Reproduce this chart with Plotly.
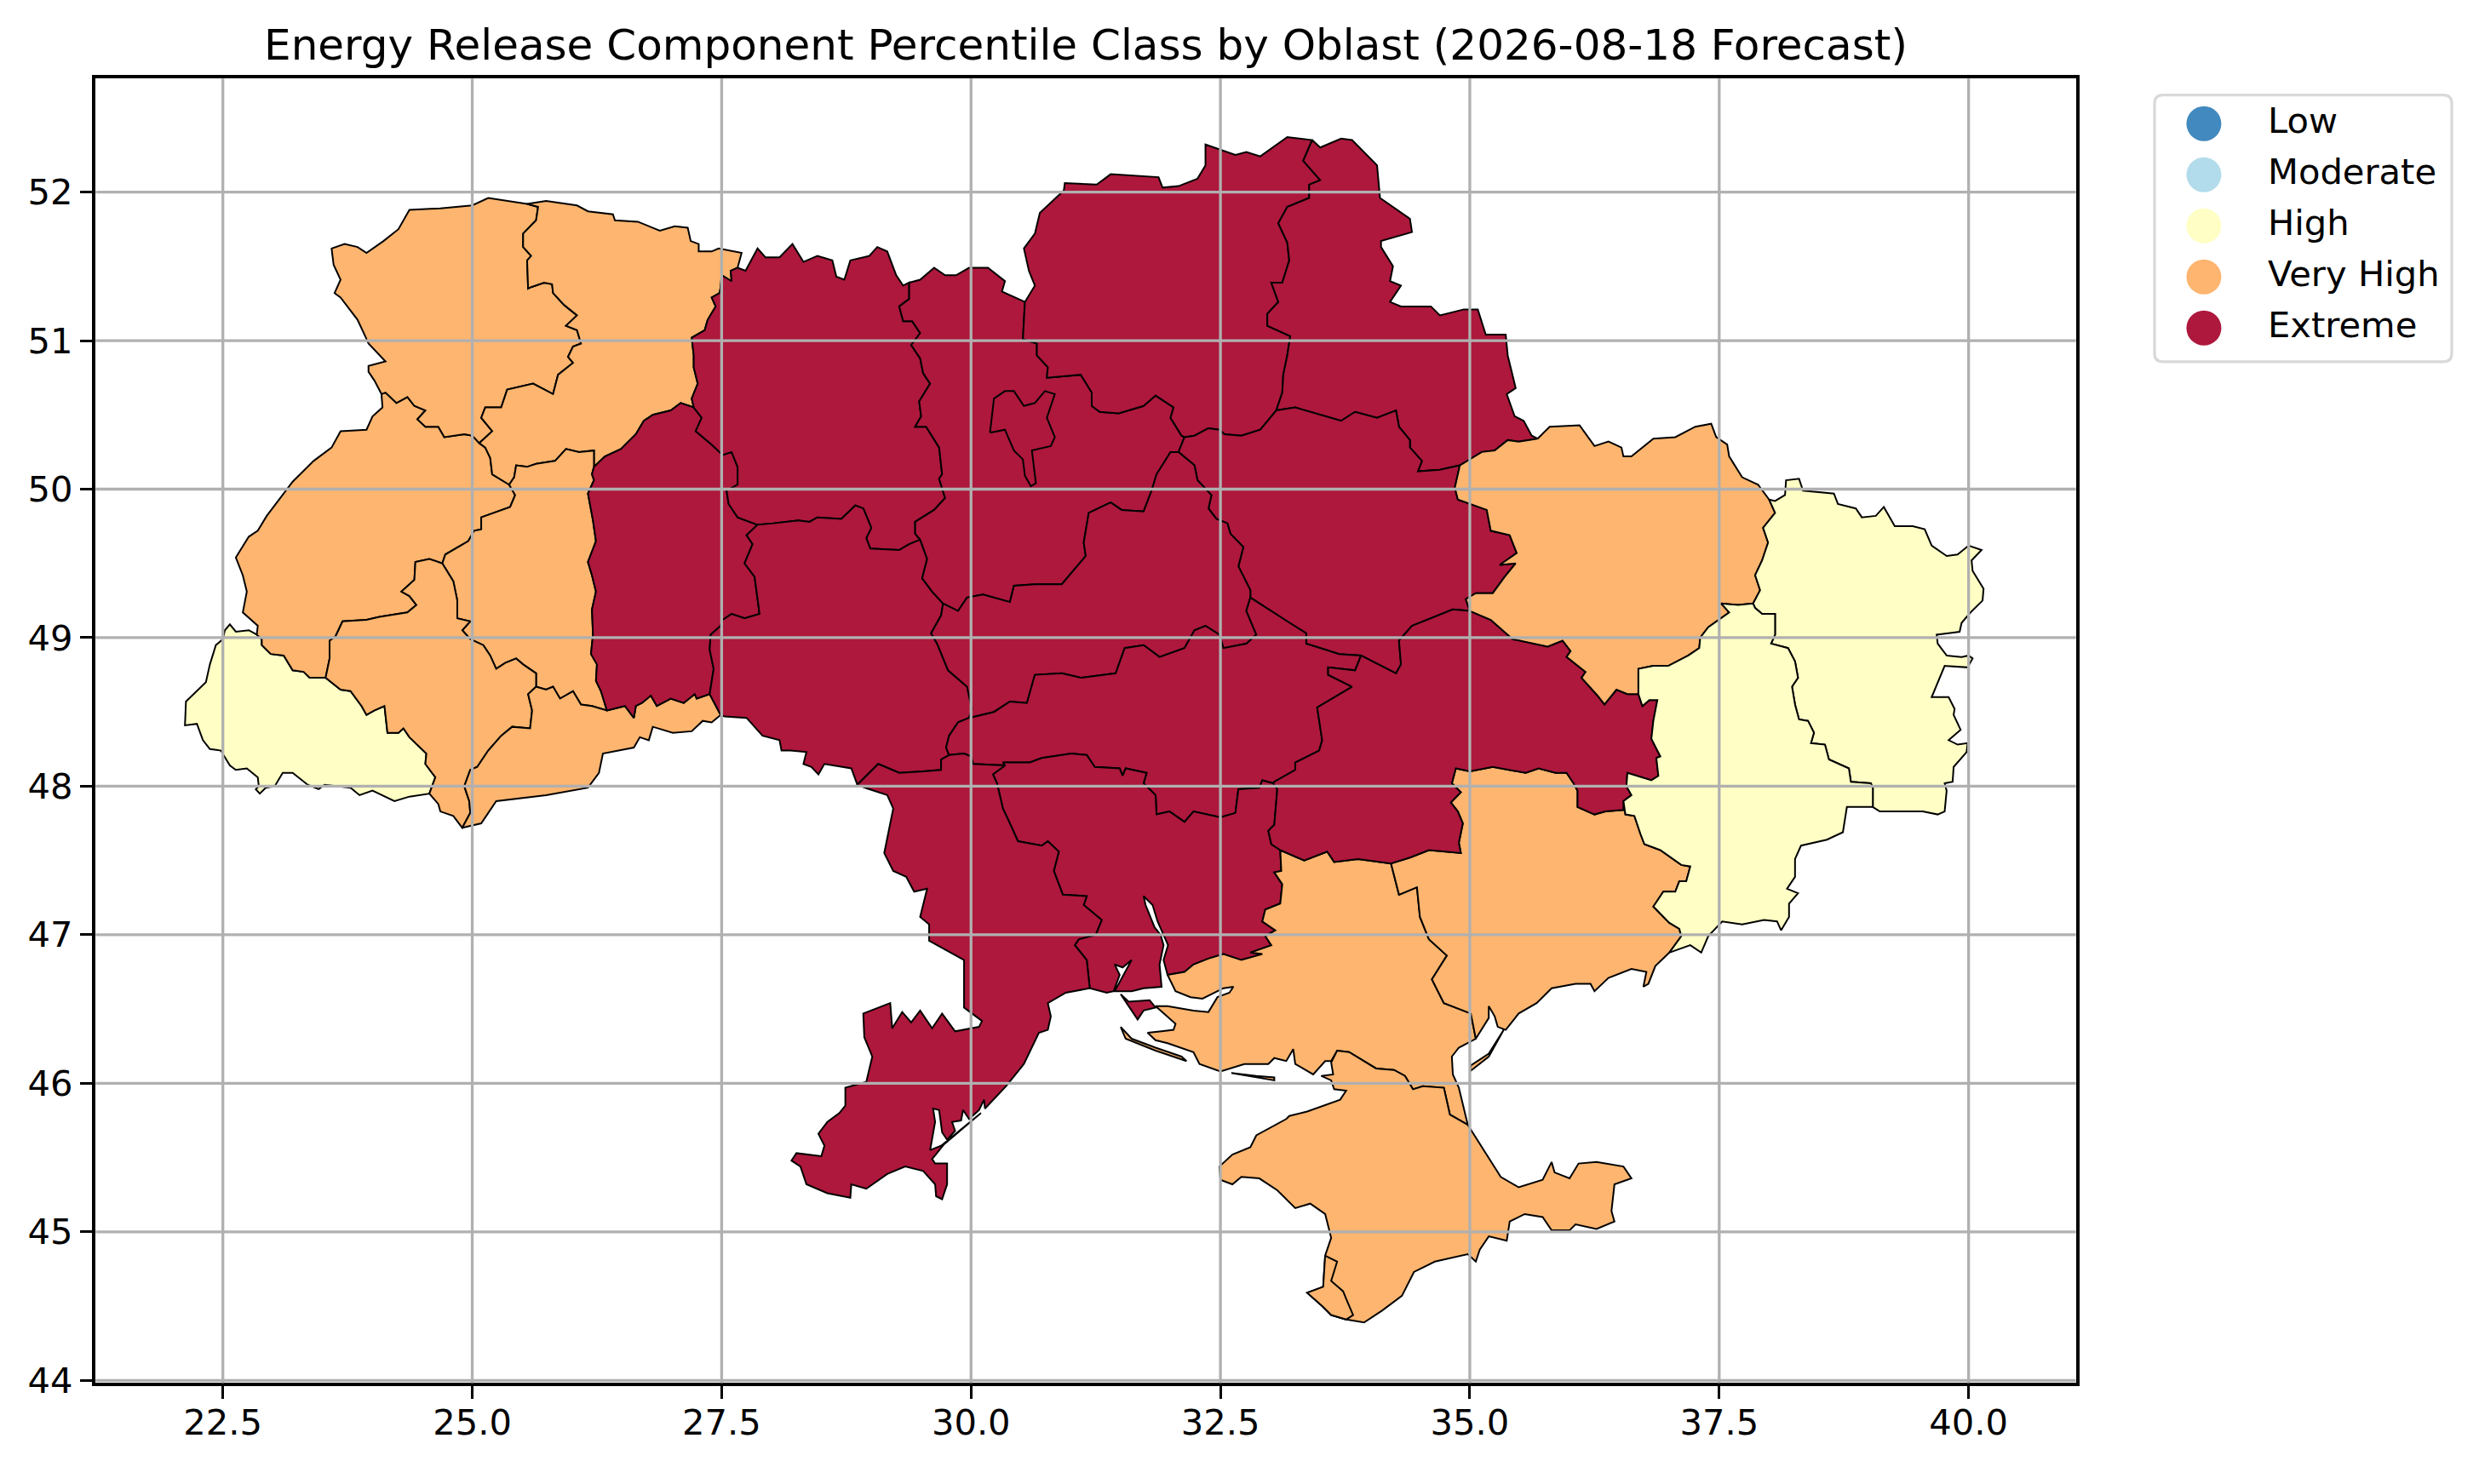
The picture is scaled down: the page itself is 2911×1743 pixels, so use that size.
import plotly.graph_objects as go

# ---- chart text and classes ----
TITLE = "Energy Release Component Percentile Class by Oblast (2026-08-18 Forecast)"
CLASSES = ["Low", "Moderate", "High", "Very High", "Extreme"]
CLASS_COLORS = ["#4189BE", "#B2DCEB", "#FFFFC5", "#FDB56F", "#AD183C"]
X_TICKS = [22.5, 25.0, 27.5, 30.0, 32.5, 35.0, 37.5, 40.0]
Y_TICKS = [44, 45, 46, 47, 48, 49, 50, 51, 52]

# ---- boundary arcs, (lon, lat) ----
zak_outer = [(22.84,49.02),(22.76,49.05),(22.63,49.04),(22.57,49.09),(22.52,49.05),(22.50,48.99),(22.43,48.95),(22.37,48.82),(22.33,48.70),(22.24,48.64),(22.13,48.57),(22.12,48.41),(22.24,48.42),(22.30,48.31),(22.37,48.25),(22.48,48.24),(22.57,48.14),(22.63,48.11),(22.74,48.12),(22.85,48.06),(22.86,48.00),(22.83,47.98),(22.87,47.95),(22.93,47.99),(23.02,48.00),(23.10,48.09),(23.20,48.09),(23.35,48.01),(23.46,47.98),(23.52,48.01),(23.78,47.99),(23.87,47.94),(24.00,47.97),(24.22,47.90),(24.37,47.93),(24.57,47.95)]
zak_if = [(24.57,47.95),(24.63,48.06),(24.53,48.15),(24.54,48.22),(24.37,48.33),(24.31,48.39),(24.26,48.36),(24.15,48.36),(24.12,48.54),(24.02,48.51),(23.94,48.48),(23.89,48.54),(23.78,48.64),(23.68,48.65),(23.53,48.73)]
zak_lviv = [(23.53,48.73),(23.37,48.73),(23.31,48.77),(23.20,48.78),(23.11,48.88),(22.98,48.89),(22.89,48.95),(22.89,48.99),(22.84,49.02)]
lviv_west = [(22.84,49.02),(22.85,49.08),(22.70,49.17),(22.74,49.31),(22.70,49.42),(22.63,49.54),(22.76,49.68),(22.85,49.72),(22.94,49.82),(23.13,49.99),(23.20,50.05),(23.41,50.19),(23.59,50.28),(23.68,50.39),(23.94,50.40),(24.00,50.49),(24.10,50.55),(24.09,50.64)]
volyn_lviv = [(25.07,50.31),(25.00,50.36),(24.92,50.37),(24.72,50.35),(24.66,50.42),(24.53,50.42),(24.45,50.47),(24.53,50.53),(24.42,50.56),(24.35,50.62),(24.24,50.58),(24.13,50.65),(24.09,50.64)]
rivne_lviv = [(25.37,50.03),(25.20,50.10),(25.18,50.21),(25.13,50.28),(25.07,50.31)]
lviv_tern = [(25.37,50.03),(25.43,49.96),(25.38,49.88),(25.09,49.81),(25.09,49.73),(25.02,49.72),(24.96,49.65),(24.73,49.56),(24.70,49.50)]
lviv_if = [(24.70,49.50),(24.57,49.53),(24.43,49.51),(24.42,49.39),(24.29,49.31),(24.37,49.28),(24.44,49.22),(24.35,49.17),(24.07,49.14),(23.94,49.12),(23.70,49.11),(23.63,49.01),(23.57,48.98),(23.57,48.86),(23.53,48.73)]
volyn_outer = [(24.09,50.64),(24.02,50.73),(23.96,50.79),(23.96,50.83),(24.13,50.86),(23.96,50.98),(23.92,51.04),(23.85,51.14),(23.68,51.29),(23.62,51.32),(23.68,51.41),(23.61,51.51),(23.59,51.62),(23.72,51.65),(23.85,51.63),(23.94,51.59),(24.11,51.67),(24.26,51.75),(24.37,51.88),(24.68,51.89),(25.00,51.91),(25.16,51.96),(25.55,51.92)]
rivne_volyn = [(25.07,50.31),(25.20,50.39),(25.09,50.48),(25.13,50.55),(25.29,50.55),(25.35,50.67),(25.61,50.71),(25.81,50.64),(25.86,50.77),(26.01,50.85),(25.96,50.89),(26.01,50.96),(26.09,50.98),(26.05,51.07),(25.94,51.10),(26.05,51.17),(25.92,51.24),(25.81,51.32),(25.80,51.38),(25.72,51.39),(25.59,51.36),(25.56,51.35),(25.55,51.54),(25.59,51.57),(25.51,51.63),(25.51,51.72),(25.64,51.81),(25.66,51.90),(25.55,51.92)]
rivne_north = [(25.55,51.92),(25.74,51.94),(26.05,51.91),(26.16,51.87),(26.41,51.85),(26.43,51.81),(26.66,51.80),(26.88,51.74),(27.03,51.77),(27.16,51.76),(27.19,51.67),(27.27,51.65),(27.27,51.60),(27.40,51.60),(27.47,51.62),(27.70,51.59),(27.66,51.49)]
rivne_zhy = [(27.66,51.49),(27.59,51.47),(27.60,51.40),(27.50,51.44),(27.49,51.36),(27.48,51.32),(27.40,51.29),(27.44,51.23),(27.36,51.14),(27.33,51.07),(27.20,51.02),(27.22,50.90),(27.22,50.82),(27.26,50.71),(27.20,50.61),(27.22,50.55)]
rivne_khm = [(27.22,50.55),(27.09,50.58),(26.99,50.53),(26.81,50.50),(26.72,50.46),(26.64,50.37),(26.49,50.27),(26.33,50.22),(26.22,50.15)]
rivne_tern = [(26.22,50.15),(26.22,50.26),(26.07,50.25),(25.94,50.27),(25.83,50.19),(25.64,50.17),(25.55,50.15),(25.44,50.16),(25.42,50.08),(25.37,50.03)]
tern_if = [(24.70,49.50),(24.81,49.38),(24.85,49.25),(24.85,49.13),(24.98,49.11),(24.90,49.05),(24.98,48.99),(25.11,48.95),(25.18,48.88),(25.24,48.79),(25.33,48.83),(25.44,48.86),(25.51,48.82),(25.64,48.76),(25.64,48.67)]
tern_chv = [(25.64,48.67),(25.74,48.65),(25.81,48.67),(25.88,48.59),(26.01,48.64),(26.09,48.55),(26.20,48.54),(26.35,48.51)]
tern_khm = [(26.35,48.51),(26.29,48.64),(26.24,48.71),(26.25,48.82),(26.19,48.89),(26.21,49.02),(26.20,49.19),(26.24,49.31),(26.20,49.42),(26.16,49.51),(26.24,49.65),(26.21,49.79),(26.16,49.97),(26.22,50.06),(26.20,50.10),(26.22,50.15)]
if_chv = [(25.64,48.67),(25.56,48.62),(25.60,48.51),(25.58,48.39),(25.40,48.40),(25.29,48.34),(25.16,48.24),(25.05,48.13),(24.98,48.11),(24.92,48.00),(24.97,47.90),(24.98,47.82),(24.90,47.72)]
if_south = [(24.57,47.95),(24.66,47.88),(24.68,47.83),(24.81,47.80),(24.90,47.72)]
chv_outer = [(24.90,47.72),(25.09,47.75),(25.24,47.90),(25.74,47.94),(26.16,47.99),(26.27,48.09),(26.31,48.22),(26.62,48.26),(26.68,48.33),(26.77,48.31),(26.81,48.40),(27.01,48.36),(27.20,48.37),(27.31,48.44),(27.40,48.43),(27.49,48.48)]
chv_vin = [(27.49,48.48),(27.38,48.62)]
chv_khm = [(27.38,48.62),(27.25,48.59),(27.23,48.62),(27.12,48.56),(26.99,48.59),(26.85,48.54),(26.79,48.61),(26.70,48.56),(26.64,48.54),(26.62,48.46),(26.53,48.54),(26.35,48.51)]
khm_zhy = [(27.22,50.55),(27.30,50.48),(27.24,50.39),(27.40,50.30),(27.51,50.23),(27.60,50.25),(27.66,50.15),(27.66,50.03),(27.55,49.99),(27.57,49.90),(27.66,49.81),(27.86,49.76)]
khm_vin = [(27.86,49.76),(27.75,49.69),(27.81,49.63),(27.73,49.50),(27.83,49.41),(27.88,49.16),(27.73,49.13),(27.60,49.16),(27.51,49.12),(27.49,49.08),(27.39,49.02),(27.38,48.92),(27.42,48.79),(27.38,48.62)]
zhy_north = [(27.66,51.49),(27.74,51.47),(27.86,51.62),(27.94,51.56),(28.08,51.56),(28.21,51.65),(28.32,51.53),(28.46,51.57),(28.61,51.54),(28.65,51.43),(28.73,51.41),(28.79,51.54),(28.98,51.57),(29.06,51.63),(29.16,51.60),(29.25,51.44),(29.32,51.37),(29.38,51.39)]
zhy_kyiv = [(29.38,51.39),(29.38,51.28),(29.28,51.23),(29.32,51.13),(29.41,51.13),(29.49,51.05),(29.40,50.97),(29.49,50.88),(29.52,50.78),(29.59,50.71),(29.48,50.59),(29.50,50.49),(29.44,50.42),(29.55,50.42),(29.68,50.28),(29.71,50.10),(29.68,50.07),(29.74,49.94),(29.63,49.86),(29.44,49.78),(29.44,49.70),(29.49,49.66)]
zhy_vin = [(27.86,49.76),(28.02,49.77),(28.27,49.79),(28.38,49.78),(28.46,49.81),(28.70,49.80),(28.84,49.89),(28.92,49.87),(29.00,49.74),(28.95,49.67),(28.99,49.60),(29.28,49.59),(29.38,49.63),(29.49,49.66)]
vin_outer = [(27.49,48.48),(27.53,48.47),(27.75,48.46),(27.91,48.34),(28.08,48.31),(28.10,48.24),(28.19,48.24),(28.35,48.23),(28.32,48.15),(28.40,48.13),(28.47,48.08),(28.53,48.15),(28.80,48.12),(28.86,48.01)]
vin_ode = [(28.86,48.01),(29.07,48.15),(29.28,48.09),(29.52,48.10),(29.70,48.11),(29.70,48.18),(29.78,48.21)]
vin_kir = [(29.98,48.46),(29.87,48.43),(29.78,48.34),(29.75,48.26),(29.78,48.21)]
vin_cherk = [(29.72,49.23),(29.70,49.15),(29.60,49.03),(29.66,48.96),(29.77,48.78),(29.96,48.67),(30.01,48.52),(29.98,48.46)]
vin_kyiv = [(29.49,49.66),(29.56,49.53),(29.51,49.40),(29.61,49.31),(29.72,49.23)]
kyiv_north = [(29.38,51.39),(29.49,51.41),(29.63,51.49),(29.74,51.44),(29.85,51.44),(29.98,51.49),(30.17,51.49),(30.34,51.40),(30.31,51.33),(30.54,51.26)]
kyiv_cher = [(30.54,51.26),(30.52,51.01),(30.66,50.98),(30.66,50.90),(30.77,50.82),(30.76,50.75),(31.10,50.77),(31.21,50.65),(31.21,50.56),(31.29,50.52),(31.48,50.51),(31.73,50.56),(31.85,50.63),(32.03,50.55),(32.00,50.48),(32.11,50.36),(32.14,50.35)]
kyiv_pol = [(32.14,50.35),(32.08,50.25)]
kyiv_cherk = [(29.72,49.23),(29.87,49.18),(29.96,49.27),(30.12,49.29),(30.39,49.24),(30.43,49.35),(30.64,49.36),(30.91,49.36),(31.15,49.55),(31.13,49.64),(31.18,49.84),(31.40,49.91),(31.51,49.86),(31.73,49.85),(31.81,49.99),(31.86,50.10),(32.00,50.25),(32.08,50.25)]
cher_outer = [(30.54,51.26),(30.64,51.37),(30.58,51.47),(30.53,51.62),(30.64,51.72),(30.69,51.86),(30.93,52.01),(30.94,52.06),(31.26,52.05),(31.40,52.12),(31.88,52.10),(31.92,52.03),(32.08,52.04),(32.27,52.09),(32.35,52.18),(32.35,52.32),(32.65,52.25),(32.76,52.27),(32.90,52.24),(33.17,52.37),(33.42,52.35)]
sumy_cher = [(33.42,52.35),(33.33,52.21),(33.50,52.08),(33.39,52.05),(33.39,51.96),(33.17,51.90),(33.08,51.79),(33.17,51.66),(33.19,51.54),(33.12,51.39),(33.01,51.39),(33.08,51.26),(32.97,51.18),(32.97,51.10),(33.20,51.03),(33.17,50.90),(33.13,50.77),(33.12,50.65),(33.06,50.53)]
cher_pol = [(32.14,50.35),(32.24,50.36),(32.38,50.41),(32.49,50.40),(32.54,50.37),(32.71,50.36),(32.90,50.40),(33.06,50.53)]
sumy_outer = [(33.42,52.35),(33.50,52.30),(33.71,52.36),(33.82,52.35),(34.07,52.18),(34.10,51.96),(34.40,51.82),(34.42,51.73),(34.11,51.67),(34.11,51.63),(34.23,51.50),(34.20,51.40),(34.31,51.37),(34.20,51.26),(34.31,51.23),(34.61,51.23),(34.70,51.17),(34.94,51.21),(35.08,51.21),(35.16,51.04),(35.36,51.04),(35.38,50.90),(35.46,50.68),(35.37,50.64),(35.45,50.49),(35.54,50.46),(35.62,50.36),(35.68,50.34)]
sumy_khar = [(34.90,50.16),(35.12,50.25),(35.25,50.26),(35.38,50.33),(35.49,50.32),(35.68,50.34)]
sumy_pol = [(33.06,50.53),(33.25,50.55),(33.71,50.46),(33.85,50.52),(34.07,50.48),(34.26,50.53),(34.29,50.42),(34.40,50.33),(34.40,50.28),(34.52,50.19),(34.48,50.12),(34.70,50.13),(34.83,50.15),(34.90,50.16)]
pol_cherk = [(32.08,50.25),(32.24,50.16),(32.27,50.06),(32.41,49.96),(32.38,49.87),(32.46,49.80),(32.57,49.77),(32.60,49.70),(32.73,49.61),(32.68,49.48),(32.80,49.32),(32.80,49.27)]
pol_kir = [(32.80,49.27),(33.17,49.11),(33.36,49.03),(33.36,48.96),(33.69,48.89),(33.91,48.88)]
pol_dni = [(33.91,48.88),(34.26,48.76),(34.31,48.82),(34.29,48.98),(34.42,49.08),(34.83,49.19),(35.00,49.18)]
pol_khar = [(35.00,49.18),(34.96,49.26),(35.06,49.30),(35.23,49.30),(35.35,49.41),(35.46,49.50),(35.30,49.49),(35.47,49.57),(35.40,49.69),(35.21,49.72),(35.17,49.86),(34.88,49.93),(34.85,50.01),(34.90,50.16)]
cherk_kir = [(29.98,48.46),(30.23,48.50),(30.39,48.57),(30.56,48.56),(30.64,48.75),(30.91,48.76),(31.10,48.73),(31.32,48.75),(31.45,48.76),(31.54,48.93),(31.73,48.95),(31.89,48.87),(32.14,48.93),(32.24,49.05),(32.35,49.08),(32.49,49.02),(32.53,48.93),(32.76,48.96),(32.86,49.02),(32.76,49.18),(32.80,49.27)]
kir_dni = [(33.91,48.88),(33.85,48.78),(33.58,48.80),(33.58,48.75),(33.82,48.67),(33.47,48.53),(33.52,48.31),(33.49,48.24),(33.25,48.16),(33.25,48.11),(33.04,48.03),(33.03,48.02)]
kir_myk = [(33.03,48.02),(32.92,48.04),(32.89,47.99),(32.68,47.98),(32.65,47.82),(32.50,47.79),(32.23,47.83),(32.14,47.76),(31.99,47.83),(31.86,47.81),(31.85,47.94),(31.73,48.02),(31.76,48.09),(31.55,48.12),(31.52,48.07),(31.49,48.12),(31.24,48.13),(31.16,48.21),(31.01,48.22),(30.71,48.19),(30.59,48.16),(30.32,48.16),(30.34,48.14)]
kir_ode = [(29.78,48.21),(29.93,48.22),(30.00,48.20),(30.02,48.15),(30.34,48.14)]
myk_dni = [(33.03,48.02),(33.07,47.98),(33.04,47.74),(32.98,47.70),(33.01,47.61),(33.10,47.57)]
myk_khe = [(33.10,47.57),(33.11,47.43),(33.04,47.42),(33.12,47.34),(33.10,47.21),(32.95,47.17),(32.92,47.09),(33.05,47.03),(32.95,46.99),(33.01,46.93),(32.80,46.88),(32.92,46.87),(32.71,46.83),(32.53,46.87),(32.38,46.84),(32.23,46.80),(32.14,46.75),(31.97,46.73)]
myk_coast = [(31.97,46.73),(31.93,46.83),(31.975,46.93),(31.93,47.00),(31.87,47.09),(31.82,47.20),(31.73,47.26),(31.75,47.20),(31.84,47.05),(31.90,47.00),(31.93,46.93),(31.89,46.80),(31.91,46.65),(31.73,46.64),(31.61,46.62),(31.44,46.62),(31.52,46.72),(31.61,46.83),(31.52,46.78),(31.44,46.80),(31.49,46.73),(31.43,46.62),(31.36,46.61),(31.19,46.64)]
ode_myk = [(30.34,48.14),(30.22,48.08),(30.26,48.02),(30.32,47.85),(30.41,47.72),(30.47,47.63),(30.71,47.60),(30.77,47.63),(30.88,47.56),(30.83,47.43),(30.92,47.27),(31.16,47.26),(31.13,47.20),(31.31,47.10),(31.25,47.00),(31.08,46.97),(31.04,46.93),(31.16,46.83),(31.19,46.64)]
ode_coast = [(31.19,46.64),(30.95,46.61),(30.77,46.54),(30.80,46.45),(30.77,46.36),(30.68,46.34),(30.53,46.13),(30.35,45.98),(30.14,45.83),(30.13,45.89),(30.08,45.82),(29.98,45.76),(29.92,45.82),(29.90,45.75),(29.81,45.74),(29.84,45.68),(29.76,45.62),(29.71,45.67),(29.68,45.82),(29.62,45.83),(29.64,45.74),(29.59,45.55),(29.70,45.58),(30.10,45.80),(29.73,45.59),(29.61,45.49),(29.64,45.46),(29.76,45.46),(29.76,45.32),(29.71,45.22),(29.65,45.24),(29.64,45.32),(29.52,45.41),(29.34,45.44),(29.16,45.39),(28.95,45.29),(28.80,45.32),(28.79,45.23),(28.56,45.26),(28.35,45.32),(28.29,45.44),(28.20,45.48),(28.25,45.53),(28.50,45.51),(28.53,45.58),(28.47,45.66),(28.56,45.74),(28.68,45.80),(28.74,45.85),(28.74,45.97),(28.95,46.01),(29.01,46.18),(28.93,46.31),(28.92,46.47),(29.19,46.54),(29.21,46.37),(29.31,46.48),(29.40,46.41),(29.49,46.49),(29.61,46.37),(29.71,46.47),(29.84,46.35),(30.08,46.38),(30.11,46.42),(29.93,46.51),(29.93,46.83),(29.58,46.96),(29.58,47.07),(29.49,47.12),(29.56,47.31),(29.43,47.29),(29.35,47.39),(29.22,47.43),(29.13,47.55),(29.22,47.85),(29.16,47.94),(28.89,48.00),(28.86,48.01)]
khe_coast = [(31.97,46.73),(32.05,46.62),(32.20,46.58),(32.32,46.57),(32.53,46.64),(32.63,46.65),(32.59,46.61),(32.47,46.58),(32.38,46.48),(32.23,46.49),(31.97,46.52),(31.85,46.52),(32.05,46.40),(32.03,46.36),(31.91,46.35),(31.77,46.34),(31.85,46.29),(31.97,46.27),(32.23,46.21),(32.29,46.13),(32.50,46.08),(32.74,46.13),(32.98,46.13),(33.04,46.17),(33.16,46.15),(33.23,46.23),(33.25,46.13),(33.43,46.06),(33.55,46.15),(33.61,46.15),(33.67,46.22)]
khe_crimea = [(33.67,46.22),(33.79,46.21),(34.06,46.10),(34.24,46.09),(34.35,46.05),(34.43,45.96),(34.53,45.98),(34.74,45.97),(34.80,45.79),(34.98,45.72)]
khe_east = [(34.98,45.72),(34.89,45.97),(34.83,46.06),(34.82,46.18),(34.89,46.24),(35.06,46.30)]
khe_zap = [(35.06,46.30),(35.01,46.47),(34.74,46.54),(34.62,46.70),(34.77,46.86),(34.59,46.97),(34.50,47.12),(34.47,47.32),(34.29,47.27),(34.21,47.48)]
khe_dni = [(33.10,47.57),(33.34,47.50),(33.57,47.56),(33.64,47.49),(33.88,47.51),(34.21,47.48)]
crimea_coast = [(34.98,45.72),(35.31,45.37),(35.49,45.30),(35.73,45.35),(35.82,45.47),(35.85,45.40),(36.00,45.36),(36.09,45.46),(36.27,45.47),(36.54,45.44),(36.62,45.36),(36.45,45.32),(36.42,45.14),(36.45,45.07),(36.27,45.02),(36.06,45.05),(36.00,45.01),(35.82,45.01),(35.73,45.10),(35.55,45.12),(35.40,45.07),(35.37,44.94),(35.19,44.97),(35.10,44.88),(35.06,44.80),(34.98,44.85),(34.65,44.80),(34.44,44.73),(34.32,44.57),(34.12,44.47),(33.94,44.39),(33.76,44.41),(33.61,44.44),(33.52,44.50),(33.37,44.59),(33.53,44.63),(33.55,44.84),(33.61,44.96),(33.55,45.12),(33.40,45.19),(33.25,45.16),(33.07,45.28),(32.89,45.36),(32.71,45.37),(32.62,45.32),(32.50,45.35),(32.49,45.44),(32.62,45.52),(32.80,45.57),(32.86,45.65),(33.16,45.76),(33.19,45.78),(33.37,45.81),(33.70,45.89),(33.76,45.95),(33.64,45.96),(33.61,46.02),(33.51,46.05),(33.63,46.06),(33.61,46.14),(33.67,46.22)]
sevastopol = [(33.55,44.84),(33.67,44.80),(33.61,44.67),(33.73,44.60),(33.76,44.55),(33.83,44.44),(33.76,44.41),(33.61,44.44),(33.52,44.50),(33.37,44.59),(33.53,44.63),(33.55,44.84)]
zap_dni = [(34.21,47.48),(34.40,47.52),(34.59,47.57),(34.91,47.55),(34.89,47.62),(34.93,47.75),(34.88,47.83),(34.81,47.89),(34.91,47.96),(34.82,48.02),(34.86,48.12),(35.00,48.10),(35.23,48.13),(35.56,48.09),(35.69,48.12),(35.86,48.09),(35.97,48.09),(36.04,48.02),(36.08,47.97),(36.08,47.86),(36.25,47.81),(36.36,47.83),(36.54,47.84),(36.54,47.90)]
don_zap = [(37.00,46.88),(37.12,46.99),(37.10,47.04),(37.00,47.08),(36.84,47.19),(36.94,47.29),(37.06,47.29),(37.10,47.36),(37.17,47.36),(37.21,47.46),(37.12,47.47),(36.91,47.57),(36.75,47.61),(36.71,47.68),(36.65,47.80),(36.56,47.81),(36.54,47.90)]
zap_coast = [(35.06,46.30),(35.19,46.44),(35.19,46.52),(35.25,46.45),(35.28,46.38),(35.36,46.36),(35.49,46.47),(35.67,46.54),(35.82,46.64),(36.06,46.67),(36.21,46.67),(36.25,46.62),(36.39,46.71),(36.62,46.77),(36.77,46.75),(36.74,46.65),(36.79,46.67),(36.86,46.79),(37.00,46.88)]
don_dni = [(36.54,47.90),(36.62,47.94),(36.57,48.00),(36.58,48.09),(36.82,48.04),(36.89,48.07),(36.87,48.19),(36.91,48.20),(36.82,48.32),(36.84,48.44),(36.88,48.58),(36.80,48.58),(36.73,48.54),(36.69,48.62)]
khar_dni = [(36.69,48.62),(36.58,48.62),(36.47,48.65),(36.35,48.55),(36.28,48.61),(36.12,48.73),(36.16,48.77),(35.97,48.87),(36.01,48.91),(35.93,48.98),(35.78,48.94),(35.43,48.99),(35.21,49.12),(35.00,49.18)]
khar_outer = [(35.68,50.34),(35.80,50.42),(36.10,50.43),(36.25,50.29),(36.39,50.32),(36.52,50.28),(36.54,50.22),(36.62,50.22),(36.84,50.34),(37.06,50.35),(37.26,50.42),(37.42,50.44),(37.47,50.35),(37.58,50.30),(37.60,50.22),(37.73,50.08),(37.89,50.03),(38.00,49.93)]
khar_lug = [(38.00,49.93),(38.06,49.84),(37.94,49.74),(37.99,49.64),(37.93,49.52),(37.86,49.42),(37.91,49.32),(37.84,49.23)]
khar_don = [(37.84,49.23),(37.69,49.22),(37.52,49.23),(37.60,49.17),(37.39,49.07),(37.31,49.00),(37.30,48.93),(37.19,48.88),(36.99,48.81),(36.84,48.81),(36.69,48.79),(36.69,48.62)]
lug_outer = [(38.00,49.93),(38.06,49.92),(38.16,49.96),(38.17,50.06),(38.30,50.07),(38.34,49.99),(38.65,49.97),(38.69,49.90),(38.87,49.87),(38.93,49.81),(39.07,49.82),(39.15,49.88),(39.26,49.75),(39.44,49.75),(39.56,49.73),(39.63,49.62),(39.78,49.55),(39.89,49.56),(40.00,49.62),(40.13,49.59),(40.03,49.52),(40.04,49.45),(40.15,49.33),(40.14,49.25),(40.02,49.17),(39.93,49.10),(39.91,49.04),(39.68,49.02),(39.69,48.96),(39.78,48.88),(39.93,48.87),(40.00,48.88),(40.04,48.86),(39.99,48.80),(39.76,48.81),(39.63,48.60),(39.80,48.60),(39.86,48.52),(39.85,48.48),(39.92,48.38),(39.80,48.31),(39.89,48.28),(39.99,48.29),(39.98,48.23),(39.85,48.13),(39.84,48.03),(39.76,48.02),(39.78,47.97),(39.76,47.83),(39.69,47.81),(39.54,47.83),(39.39,47.83),(39.11,47.83),(39.04,47.86)]
lug_don = [(39.04,47.86),(39.04,47.99),(39.02,48.02),(38.82,48.03),(38.80,48.12),(38.60,48.18),(38.56,48.28),(38.42,48.29),(38.45,48.36),(38.39,48.44),(38.30,48.45),(38.26,48.55),(38.23,48.67),(38.29,48.73),(38.26,48.84),(38.19,48.93),(38.02,48.96),(38.06,49.02),(38.06,49.16),(37.93,49.16),(37.86,49.20),(37.84,49.23)]
don_outer = [(39.04,47.86),(38.78,47.86),(38.74,47.69),(38.58,47.64),(38.32,47.60),(38.26,47.51),(38.26,47.39),(38.18,47.31),(38.29,47.28),(38.20,47.21),(38.20,47.12),(38.12,47.03),(38.08,47.09),(37.95,47.10),(37.73,47.07),(37.53,47.09),(37.39,46.99),(37.32,46.88),(37.21,46.93),(37.00,46.88)]
kyiv_city = [(30.19,50.38),(30.23,50.61),(30.34,50.66),(30.43,50.66),(30.53,50.56),(30.64,50.58),(30.74,50.66),(30.84,50.64),(30.76,50.48),(30.84,50.35),(30.80,50.29),(30.61,50.26),(30.65,50.04),(30.60,50.02),(30.54,50.09),(30.52,50.20),(30.43,50.26),(30.34,50.40),(30.19,50.38)]
kinburn = [(31.50,46.60),(31.67,46.43),(31.73,46.49),(31.85,46.51),(31.79,46.56),(31.58,46.55),(31.50,46.60)]
fedotov = [(35.34,46.36),(35.19,46.18),(35.00,46.08),(35.01,46.12),(35.19,46.20),(35.34,46.36)]
dzharylhach = [(31.50,46.38),(31.55,46.30),(31.85,46.22),(32.16,46.15),(32.11,46.18),(31.85,46.24),(31.61,46.30),(31.50,46.38)]
tendra = [(32.61,46.07),(33.04,46.02),(33.04,46.04),(32.86,46.05),(32.61,46.07)]


def rev(arc):
    return arc[::-1]


# ---- oblasts assembled from the arcs, with their class ----
OBLASTS = [
    ("Zakarpattia", "High", [zak_outer, zak_if, zak_lviv]),
    ("Lviv", "Very High", [lviv_west, rev(volyn_lviv), rev(rivne_lviv), lviv_tern, lviv_if, zak_lviv]),
    ("Volyn", "Very High", [volyn_outer, rev(rivne_volyn), volyn_lviv]),
    ("Rivne", "Very High", [rivne_north, rivne_zhy, rivne_khm, rivne_tern, rivne_lviv, rivne_volyn]),
    ("Ternopil", "Very High", [rivne_tern, lviv_tern, tern_if, tern_chv, tern_khm]),
    ("Ivano-Frankivsk", "Very High", [tern_if, if_chv, rev(if_south), zak_if, rev(lviv_if)]),
    ("Chernivtsi", "Very High", [chv_outer, chv_vin, chv_khm, rev(tern_chv), if_chv]),
    ("Khmelnytskyi", "Extreme", [khm_zhy, khm_vin, chv_khm, tern_khm, rev(rivne_khm)]),
    ("Zhytomyr", "Extreme", [zhy_north, zhy_kyiv, rev(zhy_vin), rev(khm_zhy), rev(rivne_zhy)]),
    ("Vinnytsia", "Extreme", [vin_outer, vin_ode, rev(vin_kir), rev(vin_cherk), rev(vin_kyiv), rev(zhy_vin), khm_vin, rev(chv_vin)]),
    ("Kyiv Oblast", "Extreme", [kyiv_north, kyiv_cher, kyiv_pol, rev(kyiv_cherk), rev(vin_kyiv), rev(zhy_kyiv)]),
    ("Kyiv", "Extreme", [kyiv_city]),
    ("Chernihiv", "Extreme", [cher_outer, sumy_cher, rev(cher_pol), rev(kyiv_cher)]),
    ("Sumy", "Extreme", [sumy_outer, rev(sumy_khar), rev(sumy_pol), rev(sumy_cher)]),
    ("Poltava", "Extreme", [cher_pol, sumy_pol, rev(pol_khar), rev(pol_dni), rev(pol_kir), rev(pol_cherk), rev(kyiv_pol)]),
    ("Cherkasy", "Extreme", [kyiv_cherk, pol_cherk, rev(cherk_kir), rev(vin_cherk)]),
    ("Kirovohrad", "Extreme", [cherk_kir, pol_kir, kir_dni, kir_myk, rev(kir_ode), rev(vin_kir)]),
    ("Mykolaiv", "Extreme", [myk_dni, myk_khe, myk_coast, rev(ode_myk), rev(kir_myk)]),
    ("Mykolaiv (Kinburn)", "Extreme", [kinburn]),
    ("Odesa", "Extreme", [kir_ode, ode_myk, ode_coast, vin_ode]),
    ("Kherson", "Very High", [khe_coast, khe_crimea, khe_east, khe_zap, rev(khe_dni), myk_khe]),
    ("Kherson (Dzharylhach)", "Very High", [dzharylhach]),
    ("Kherson (Tendra)", "Very High", [tendra]),
    ("Crimea", "Very High", [crimea_coast, khe_crimea]),
    ("Sevastopol", "Very High", [sevastopol]),
    ("Zaporizhzhia", "Very High", [zap_dni, rev(don_zap), rev(zap_coast), khe_zap]),
    ("Zaporizhzhia (spit)", "Very High", [fedotov]),
    ("Dnipropetrovsk", "Extreme", [kir_dni, myk_dni, khe_dni, zap_dni, don_dni, khar_dni, rev(pol_dni)]),
    ("Kharkiv", "Very High", [khar_outer, khar_lug, khar_don, khar_dni, pol_khar, sumy_khar]),
    ("Luhansk", "High", [lug_outer, lug_don, rev(khar_lug)]),
    ("Donetsk", "High", [don_outer, don_zap, don_dni, rev(khar_don), rev(lug_don)]),
]

W, H = 2911, 1743
color_of = dict(zip(CLASSES, CLASS_COLORS))
fig = go.Figure()

for name, cls, parts in OBLASTS:
    pts = [p for part in parts for p in part]
    fig.add_trace(go.Scatter(
        x=[p[0] for p in pts], y=[p[1] for p in pts], mode="lines", fill="toself",
        fillcolor=color_of[cls], line=dict(color="#000000", width=2),
        name=name, text=cls, hoverinfo="name+text", showlegend=False,
    ))

# Legend panel: its own small axes so the markers can be as large as in the reference
fig.add_trace(go.Scatter(
    x=[0.166] * len(CLASSES), y=list(range(len(CLASSES))), mode="markers",
    marker=dict(size=41, color=CLASS_COLORS, line=dict(width=0)),
    xaxis="x2", yaxis="y2", showlegend=False, hoverinfo="skip",
))
fig.add_trace(go.Scatter(
    x=[0.381] * len(CLASSES), y=list(range(len(CLASSES))), mode="text",
    text=CLASSES, textposition="middle right",
    textfont=dict(family="DejaVu Sans", size=41.67, color="#000000"),
    xaxis="x2", yaxis="y2", showlegend=False, hoverinfo="skip",
))

L, R, T, B = 112.3, 2437.6, 93.3, 1644.3
XR = [22.5 - (261.7 - L) / 117.14, 22.5 + (R - 261.7) / 117.14]
YR = [52 - (B - 228.3) / 176.6, 52 + (228.3 - T) / 176.6]
axis_style = dict(
    showgrid=False, zeroline=False, showline=True, mirror=True, linecolor="#000000", linewidth=3.5,
    ticks="outside", ticklen=14.6, tickwidth=3.3, tickcolor="#000000",
    tickfont=dict(family="DejaVu Sans", size=41.67, color="#000000"),
)
LX0, LX1, LY0, LY1 = 2530, 2879, 113, 430
hidden = dict(visible=False, fixedrange=True)
r_x, r_y = 10 / W, 10 / H
x0, x1, y0, y1 = LX0 / W, LX1 / W, 1 - LY1 / H, 1 - LY0 / H
legend_path = (
    f"M {x0 + r_x} {y0} L {x1 - r_x} {y0} Q {x1} {y0} {x1} {y0 + r_y} L {x1} {y1 - r_y} "
    f"Q {x1} {y1} {x1 - r_x} {y1} L {x0 + r_x} {y1} Q {x0} {y1} {x0} {y1 - r_y} "
    f"L {x0} {y0 + r_y} Q {x0} {y0} {x0 + r_x} {y0} Z"
)
fig.update_layout(
    width=W, height=H, autosize=False, margin=dict(l=0, r=0, t=0, b=0), paper_bgcolor="white", plot_bgcolor="white",
    title=dict(text=TITLE, x=1275 / W, y=1 - 52 / H, xanchor="center", yanchor="middle",
               font=dict(family="DejaVu Sans", size=50, color="#000000")),
    xaxis=dict(domain=[L / W, R / W], range=XR, tickvals=X_TICKS, ticktext=[f"{v:.1f}" for v in X_TICKS],
               ticklabelstandoff=-8, **axis_style),
    yaxis=dict(domain=[1 - B / H, 1 - T / H], range=YR, tickvals=Y_TICKS, ticktext=[str(v) for v in Y_TICKS], **axis_style),
    xaxis2=dict(domain=[LX0 / W, LX1 / W], range=[0, 1], anchor="y2", **hidden),
    yaxis2=dict(domain=[1 - LY1 / H, 1 - LY0 / H], range=[4 + 40 / 60.75, -34 / 60.75], anchor="x2", **hidden),
    shapes=[
        dict(type="line", xref="x", yref="paper", x0=v, x1=v, y0=1 - B / H, y1=1 - T / H,
             line=dict(color="#B0B0B0", width=3.3), layer="above") for v in X_TICKS
    ] + [
        dict(type="line", xref="paper", yref="y", x0=L / W, x1=R / W, y0=v, y1=v,
             line=dict(color="#B0B0B0", width=3.3), layer="above") for v in Y_TICKS
    ] + [
        dict(type="path", xref="paper", yref="paper", path=legend_path,
             line=dict(color="#D9D9D9", width=3.3), fillcolor="rgba(255,255,255,0)", layer="above")
    ],
)

fig.write_html(
    "out.html",
    config={"displayModeBar": False, "responsive": False},
    post_script="document.body.style.margin='0';document.documentElement.style.overflow='hidden';",
)
